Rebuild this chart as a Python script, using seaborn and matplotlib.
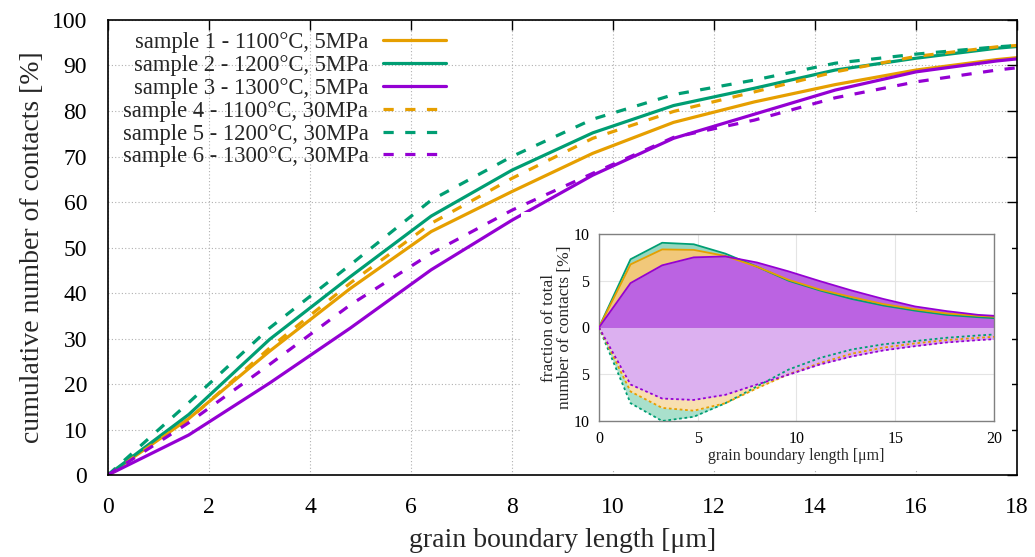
import numpy as np
import pandas as pd
import matplotlib
matplotlib.use("Agg")
import matplotlib.pyplot as plt
import seaborn as sns

# ---------------- data ----------------
x_main = [0, 1.6, 3.2, 4.8, 6.4, 8.0, 9.6, 11.2, 12.8, 14.4, 16.0, 17.6, 19.2]
s1 = [0, 12.4, 27.2, 41.0, 53.5, 62.3, 70.7, 77.5, 82.0, 85.8, 89.0, 91.3, 93.0]
s2 = [0, 13.3, 29.8, 43.6, 56.9, 67.0, 75.2, 81.2, 85.0, 89.0, 91.6, 93.8, 95.3]
s3 = [0, 8.8, 20.2, 32.3, 45.1, 56.0, 65.9, 74.0, 79.3, 84.6, 88.6, 91.0, 92.8]
s4 = [0, 12.2, 27.9, 42.2, 55.3, 65.2, 74.0, 79.9, 84.2, 88.6, 92.0, 94.1, 95.3]
s5 = [0, 15.9, 32.3, 46.2, 60.4, 70.0, 78.2, 83.6, 86.8, 90.5, 92.5, 94.1, 95.3]
s6 = [0, 11.5, 24.3, 37.4, 48.7, 58.2, 66.3, 74.2, 78.0, 82.9, 86.4, 89.0, 91.0]

labels = ["sample 1 - 1100°C, 5MPa", "sample 2 - 1200°C, 5MPa", "sample 3 - 1300°C, 5MPa",
          "sample 4 - 1100°C, 30MPa", "sample 5 - 1200°C, 30MPa", "sample 6 - 1300°C, 30MPa"]

x_inset = [0, 1.6, 3.2, 4.8, 6.4, 8.0, 9.6, 11.2, 12.8, 14.4, 16.0, 17.6, 19.2, 20.0]
f1 = [0, 6.75, 8.35, 8.3, 7.65, 6.5, 5.1, 4.05, 3.25, 2.5, 1.95, 1.5, 1.25, 1.15]
f2 = [0, 7.3, 9.06, 8.9, 7.9, 6.5, 5.0, 3.95, 3.05, 2.35, 1.8, 1.35, 1.1, 1.0]
f3 = [0, 4.75, 6.65, 7.5, 7.6, 6.95, 6.0, 4.95, 3.95, 3.05, 2.25, 1.75, 1.35, 1.25]
f4 = [0, 6.85, 8.6, 8.9, 8.1, 6.5, 5.0, 3.8, 2.8, 2.15, 1.7, 1.35, 1.1, 1.0]
f5 = [0, 8.1, 10.0, 9.55, 8.1, 6.3, 4.5, 3.25, 2.35, 1.8, 1.45, 1.1, 0.85, 0.75]
f6 = [0, 6.1, 7.6, 7.75, 7.2, 6.1, 5.05, 3.95, 3.1, 2.45, 2.0, 1.6, 1.35, 1.25]

x_ticks = [0, 2, 4, 6, 8, 10, 12, 14, 16, 18]
y_ticks = [0, 10, 20, 30, 40, 50, 60, 70, 80, 90, 100]
inset_xticks = [0, 5, 10, 15, 20]
inset_yticks = [-10, -5, 0, 5, 10]
inset_yticklabels = ["10", "5", "0", "5", "10"]

# ---------------- style ----------------
sns.set_theme(style="white")
plt.rcParams['font.family'] = ['Liberation Serif', 'DejaVu Serif']

ORANGE = "#e69f00"
GREEN = "#009e73"
PURPLE = "#9400d3"
colors = [ORANGE, GREEN, PURPLE, ORANGE, GREEN, PURPLE]
dashed = [False, False, False, True, True, True]

fig = plt.figure(figsize=(10.35, 5.57), dpi=100)
fig.patch.set_facecolor("white")
ax = fig.add_axes([0.1043, 0.1472, 0.8783, 0.8169])
ax.set_facecolor("white")

series = [s1, s2, s3, s4, s5, s6]
for s, c, d, lab in zip(series, colors, dashed, labels):
    df = pd.DataFrame({"x": x_main, "y": s})
    ls = (0, (3.2, 3.6)) if d else "-"
    sns.lineplot(data=df, x="x", y="y", ax=ax, color=c, lw=2.3, linestyle=ls,
                 label=lab, sort=False, clip_on=True)

ax.set_xlim(0, 18)
ax.set_ylim(0, 100)
ax.set_xticks(x_ticks)
ax.set_yticks(y_ticks)
ax.tick_params(direction="in", length=7, width=1, top=True, right=True,
               labelsize=17, colors="black")
ax.tick_params(axis="y", pad=15)
ax.tick_params(axis="x", pad=16)
for sp in ax.spines.values():
    sp.set_color("black")
    sp.set_linewidth(1.2)
ax.grid(True, color="#b0b0b0", linestyle=(0, (1, 2)), lw=0.8)
ax.set_xlabel("grain boundary length [μm]", fontsize=20, labelpad=7)
ax.set_ylabel("cumulative number of contacts [%]", fontsize=20, labelpad=5)

leg = ax.legend(loc="upper right", bbox_to_anchor=(457 / 1035, 1 - 21 / 557),
                bbox_transform=fig.transFigure, frameon=False, markerfirst=False,
                fontsize=16.3, handlelength=2.75, handletextpad=0.66, labelspacing=0.08,
                borderpad=0)

# white background behind inset
bg = fig.add_axes([0.503, 0.157, 0.475, 0.462])
bg.set_facecolor("white")
bg.set_xticks([]); bg.set_yticks([])
for sp in bg.spines.values():
    sp.set_visible(False)
bg.grid(False)

ins = fig.add_axes([0.5787, 0.2442, 0.3817, 0.3357])
ins.set_facecolor("white")
xi = np.array(x_inset)
top = [(f2, GREEN, "#96d7c0"), (f1, ORANGE, "#f1c87a"), (f3, PURPLE, "#bb63e2")]
bot = [(f5, GREEN, "#a9e0cc"), (f4, ORANGE, "#f8dfb0"), (f6, PURPLE, "#dcb0f0")]
for f, c, fc in top:
    ins.fill_between(xi, 0, f, color=fc, lw=0, zorder=1)
for f, c, fc in bot:
    ins.fill_between(xi, 0, -np.array(f), color=fc, lw=0, zorder=1)
for f, c, fc in top:
    sns.lineplot(x=xi, y=np.array(f), ax=ins, color=c, lw=1.3, sort=False, zorder=3)
for f, c, fc in bot:
    sns.lineplot(x=xi, y=-np.array(f), ax=ins, color=c, lw=1.3, linestyle=(0, (1.5, 1.5)),
                 sort=False, zorder=3)
ins.set_xlim(0, 20)
ins.set_ylim(-10, 10)
ins.set_xticks(inset_xticks)
ins.set_yticks(inset_yticks)
ins.set_yticklabels(inset_yticklabels)
ins.grid(True, color="#e4e4e4", lw=0.8, zorder=0)
ins.set_axisbelow(True)
ins.tick_params(direction="in", length=0, labelsize=11.5, pad=7, colors="black")
for sp in ins.spines.values():
    sp.set_color("#808080")
    sp.set_linewidth(1.0)
ins.set_xlabel("grain boundary length [μm]", fontsize=11.5, labelpad=1)
ins.set_ylabel("fraction of total\nnumber of contacts [%]", fontsize=12.5, labelpad=0,
               linespacing=1.0)

fig.savefig("out.png", dpi=100, facecolor="white")
